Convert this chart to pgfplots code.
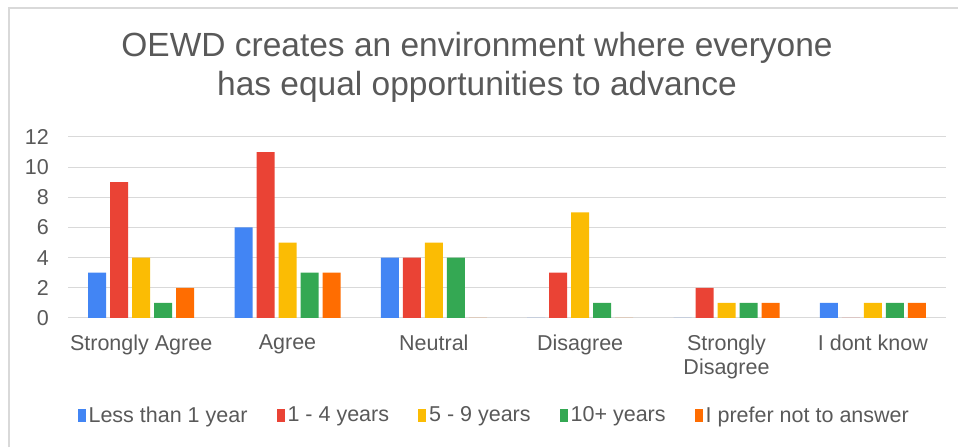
\documentclass[border=0pt]{standalone}
\usepackage{fontspec}
\setmainfont{Liberation Sans}
\usepackage{pgfplots}
\pgfplotsset{compat=1.18}
\definecolor{cblue}{HTML}{4285F4}
\definecolor{cred}{HTML}{EA4335}
\definecolor{cyellow}{HTML}{FBBC04}
\definecolor{cgreen}{HTML}{34A853}
\definecolor{corange}{HTML}{FF6D01}
\definecolor{txt}{HTML}{595959}
\definecolor{gridgray}{HTML}{D9D9D9}
\begin{document}
\begin{tikzpicture}[x=1pt,y=1pt]
\useasboundingbox (0,0) rectangle (958,447);
\draw[gridgray, line width=1.5pt] (9,0) -- (9,439) -- (958,439);
\node[anchor=base, text=txt, font=\fontsize{33.5}{38}\selectfont, inner sep=0pt] at (477,390) {OEWD creates an environment where everyone};
\node[anchor=base, text=txt, font=\fontsize{33.5}{38}\selectfont, inner sep=0pt] at (477,351) {has equal opportunities to advance};
\begin{axis}[
  at={(68pt,129pt)}, anchor=south west,
  scale only axis, width=878pt, height=181pt,
  xmin=-0.5, xmax=5.5, ymin=0, ymax=12,
  axis line style={draw=none},
  ytick={0,2,...,12},
  xtick={0,...,5},
  xticklabels={Strongly Agree, Agree, Neutral, Disagree, {Strongly\\Disagree}, I dont know},
  major tick length=0pt,
  xtick style={draw=none}, ytick style={draw=none},
  xmajorgrids=false, ymajorgrids=true,
  major grid style={draw=gridgray, line width=1pt},
  /pgf/number format/assume math mode=true,
  tick label style={text=txt, font=\fontsize{21.5}{24}\selectfont, inner sep=0pt},
  xticklabel style={align=center, anchor=north, yshift=-17pt},
  yticklabel style={anchor=east, xshift=-19pt},
  ybar, bar width=18pt,
  every axis plot/.append style={draw=none},
  legend style={at={(0.486,-0.536)}, anchor=center, draw=none, fill=none,
    legend columns=5, font=\fontsize{21.5}{24}\selectfont, text=txt,
    /tikz/every even column/.append style={column sep=26pt},
    nodes={inner sep=3pt}},
  legend image code/.code={\fill[#1] (1pt,-6.5pt) rectangle (9pt,6.5pt);},
]
\addplot[fill=cblue, bar shift=-44pt] coordinates {(0,3) (1,6) (2,4) (3,0) (4,0) (5,1)};
\addplot[fill=cred, bar shift=-22pt] coordinates {(0,9) (1,11) (2,4) (3,3) (4,2) (5,0)};
\addplot[fill=cyellow, bar shift=0pt] coordinates {(0,4) (1,5) (2,5) (3,7) (4,1) (5,1)};
\addplot[fill=cgreen, bar shift=22pt] coordinates {(0,1) (1,3) (2,4) (3,1) (4,1) (5,1)};
\addplot[fill=corange, bar shift=44pt] coordinates {(0,2) (1,3) (2,0) (3,0) (4,1) (5,1)};
\legend{Less than 1 year, 1 - 4 years, 5 - 9 years, 10+ years, I prefer not to answer}
\end{axis}
\end{tikzpicture}
\end{document}
